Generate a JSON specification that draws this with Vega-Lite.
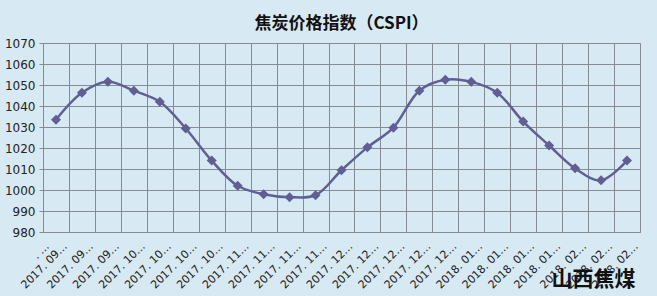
{
  "$schema": "https://vega.github.io/schema/vega-lite/v6.json",
  "width": 597,
  "height": 189,
  "autosize": {"type": "none"},
  "padding": {"left": 43, "top": 43, "right": 17, "bottom": 64},
  "background": "#d7e9f2",
  "title": {
    "text": "焦炭价格指数（CSPI）",
    "font": "Noto Sans CJK SC",
    "fontSize": 17,
    "fontWeight": "bold",
    "color": "#111111",
    "offset": 4,
    "anchor": "middle"
  },
  "data": {
    "values": [
      {"date": "2017.09.15", "value": 1033.5},
      {"date": "2017.09.22", "value": 1046.3},
      {"date": "2017.09.29", "value": 1051.5},
      {"date": "2017.10.06", "value": 1047.3},
      {"date": "2017.10.13", "value": 1042.0},
      {"date": "2017.10.20", "value": 1029.3},
      {"date": "2017.10.27", "value": 1014.0},
      {"date": "2017.11.03", "value": 1002.0},
      {"date": "2017.11.10", "value": 998.0},
      {"date": "2017.11.17", "value": 996.6},
      {"date": "2017.11.24", "value": 997.5},
      {"date": "2017.12.01", "value": 1009.4},
      {"date": "2017.12.08", "value": 1020.3},
      {"date": "2017.12.15", "value": 1029.7},
      {"date": "2017.12.22", "value": 1047.3},
      {"date": "2017.12.29", "value": 1052.5},
      {"date": "2018.01.05", "value": 1051.5},
      {"date": "2018.01.12", "value": 1046.3},
      {"date": "2018.01.19", "value": 1032.6},
      {"date": "2018.01.26", "value": 1021.2},
      {"date": "2018.02.02", "value": 1010.3},
      {"date": "2018.02.09", "value": 1004.6},
      {"date": "2018.02.16", "value": 1014.0}
    ]
  },
  "mark": {
    "type": "line",
    "color": "#5f5f95",
    "strokeWidth": 2.5,
    "interpolate": "catmull-rom",
    "point": {"shape": "diamond", "size": 100, "filled": true, "color": "#5f5f95", "opacity": 1}
  },
  "encoding": {
    "x": {
      "field": "date",
      "type": "ordinal",
      "sort": null,
      "bandPosition": 0.5,
      "scale": {"type": "band", "paddingInner": 0, "paddingOuter": 0},
      "axis": {
        "title": "山西焦煤",
        "titleFont": "Noto Sans CJK SC",
        "titleFontSize": 21,
        "titleFontWeight": "bold",
        "titleColor": "#111111",
        "titleAlign": "right",
        "titleBaseline": "alphabetic",
        "titleX": 592,
        "titleY": 53,
        "tickBand": "extent",
        "ticks": false,
        "grid": true,
        "gridColor": "#868c92",
        "gridOpacity": 1,
        "domain": true,
        "domainColor": "#868c92",
        "labelAngle": -45,
        "labelFont": "DejaVu Sans",
        "labelFontSize": 11,
        "labelColor": "#222222",
        "labelPadding": 8,
        "labelOffset": 5,
        "labelExpr": "slice(datum.label, 0, 4) + '. ' + slice(datum.label, 5, 7) + '…'"
      }
    },
    "y": {
      "field": "value",
      "type": "quantitative",
      "scale": {"domain": [980, 1070], "zero": false, "nice": false},
      "axis": {
        "title": null,
        "format": "d",
        "values": [980, 990, 1000, 1010, 1020, 1030, 1040, 1050, 1060, 1070],
        "grid": true,
        "gridColor": "#868c92",
        "gridOpacity": 1,
        "domain": true,
        "domainColor": "#868c92",
        "ticks": true,
        "tickSize": 4,
        "tickColor": "#868c92",
        "labelFont": "DejaVu Sans",
        "labelFontSize": 12,
        "labelColor": "#222222",
        "labelPadding": 4
      }
    }
  },
  "config": {
    "view": {"stroke": "#868c92", "strokeWidth": 1}
  }
}
